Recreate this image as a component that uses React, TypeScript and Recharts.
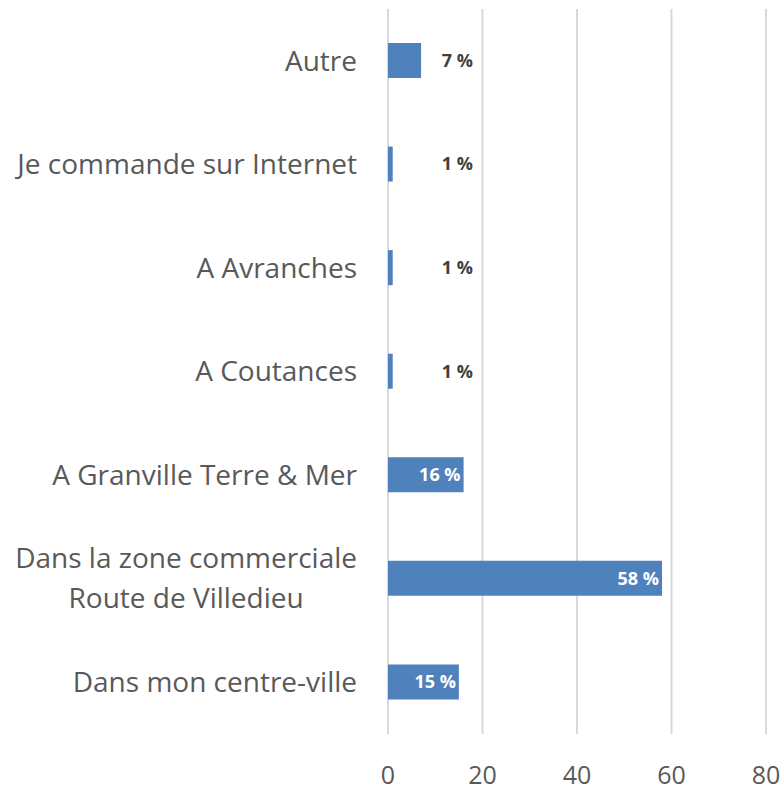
import React, { useLayoutEffect, useRef, useState } from 'react'
import { BarChart, Bar, XAxis, YAxis, CartesianGrid, LabelList } from 'recharts'

const categories = [
  'Autre',
  'Je commande sur Internet',
  'A Avranches',
  'A Coutances',
  'A Granville Terre & Mer',
  'Dans la zone commerciale\nRoute de Villedieu',
  'Dans mon centre-ville',
]
const shares = [7, 1, 1, 1, 16, 58, 15]
const xTicks = [0, 20, 40, 60, 80]

const data = categories.map((name, i) => ({ name, value: shares[i] }))

const FONT = '"Open Sans", "Noto Sans", sans-serif'
const TEXT = '#595959'

// category label; multi-line labels get centred on their widest line
function CategoryTick(props: any) {
  const { x, y, payload } = props
  const lines: string[] = String(payload.value).split('\n')
  const ref = useRef<SVGTextElement>(null)
  const [w, setW] = useState(0)

  useLayoutEffect(() => {
    if (lines.length > 1 && ref.current) {
      setW(ref.current.getBBox().width)
    }
  }, [payload.value])

  if (lines.length === 1) {
    return (
      <text x={x} y={y} dy="0.35em" textAnchor="end" fill={TEXT} fontSize={28} fontFamily={FONT}>
        {lines[0]}
      </text>
    )
  }
  const lh = 40
  const top = y - ((lines.length - 1) * lh) / 2
  return (
    <text ref={ref} textAnchor="middle" fill={TEXT} fontSize={28} fontFamily={FONT}>
      {lines.map((l, i) => (
        <tspan key={i} x={x - w / 2} y={top + i * lh} dy="0.35em">
          {l}
        </tspan>
      ))}
    </text>
  )
}

function ValueLabel(props: any) {
  const { x, y, width, height, value } = props
  const inside = width > 50
  return (
    <text
      x={inside ? x + width - 3 : x + 85}
      y={y + height / 2}
      dy="0.35em"
      textAnchor="end"
      fill={inside ? '#ffffff' : '#404040'}
      fontSize={18}
      fontWeight="bold"
      fontFamily={FONT}
    >
      {value} %
    </text>
  )
}

export default function App() {
  return (
    <div style={{ position: 'absolute', left: 0, top: 0, background: '#fff' }}>
      <BarChart
        width={784}
        height={791}
        data={data}
        layout="vertical"
        margin={{ top: 9, right: 18, bottom: 0, left: 0 }}
        barSize={35}
      >
        <CartesianGrid horizontal={false} stroke="#d9d9d9" strokeWidth={2} />
        <XAxis
          type="number"
          domain={[0, 80]}
          ticks={xTicks}
          axisLine={false}
          tickLine={false}
          tickMargin={26}
          height={57}
          tick={{ fill: TEXT, fontSize: 25, fontFamily: FONT }}
        />
        <YAxis
          type="category"
          dataKey="name"
          width={388}
          axisLine={false}
          tickLine={false}
          tickMargin={25}
          interval={0}
          tick={<CategoryTick />}
        />
        <Bar dataKey="value" fill="#4f81bd" isAnimationActive={false}>
          <LabelList dataKey="value" content={<ValueLabel />} />
        </Bar>
      </BarChart>
    </div>
  )
}
